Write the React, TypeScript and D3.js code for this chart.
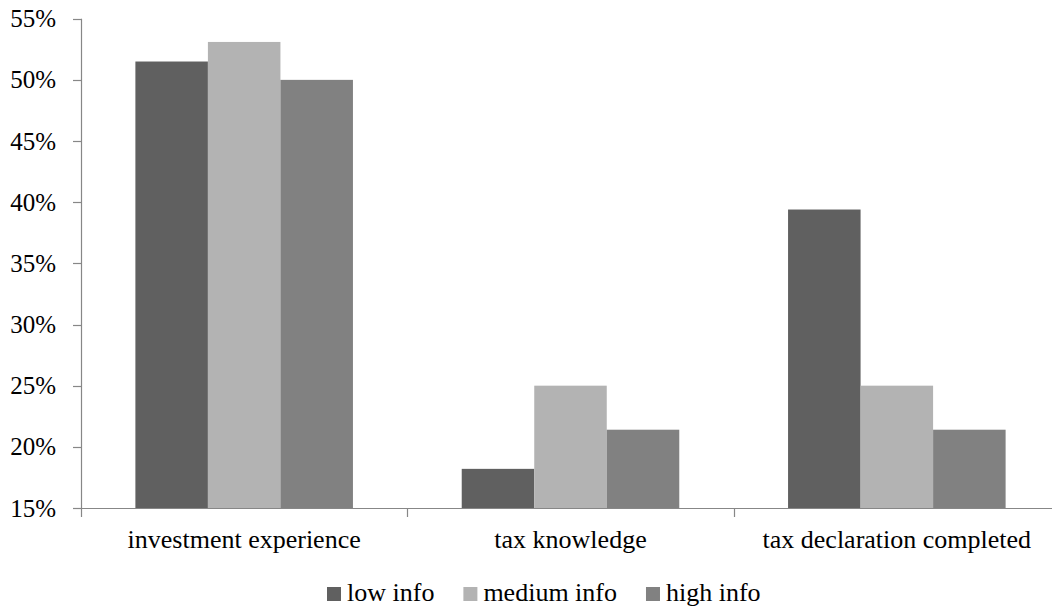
import React, { useEffect, useRef } from "react";
import * as d3 from "d3";

const categories = ["investment experience", "tax knowledge", "tax declaration completed"];
const seriesNames = ["low info", "medium info", "high info"];
const lowInfo = [51.5, 18.2, 39.4];
const mediumInfo = [53.1, 25.0, 25.0];
const highInfo = [50.0, 21.4, 21.4];
const seriesColors = ["#606060", "#b3b3b3", "#818181"];
const yTicks = [15, 20, 25, 30, 35, 40, 45, 50, 55];

const W = 1052;
const H = 608;
const FONT = "Liberation Serif, Times New Roman, Times, serif";

export default function App() {
  const ref = useRef<SVGSVGElement | null>(null);

  useEffect(() => {
    const svg = d3.select(ref.current);
    svg.selectAll("*").remove();

    const left = 81, right = 1060, top = 18.7, bottom = 508;
    const y = d3.scaleLinear().domain([15, 55]).range([bottom, top]);
    const x0 = d3.scaleBand<string>().domain(categories).range([left, right]).padding(0);
    const x1 = d3.scaleBand<string>().domain(seriesNames).range([0, x0.bandwidth()])
      .paddingInner(0).paddingOuter(0.75);

    const seriesData = [lowInfo, mediumInfo, highInfo];
    const axisColor = "#878787";

    // bars
    categories.forEach((c, ci) => {
      seriesNames.forEach((s, si) => {
        const v = seriesData[si][ci];
        svg.append("rect")
          .attr("x", (x0(c) as number) + (x1(s) as number))
          .attr("y", y(v))
          .attr("width", x1.bandwidth())
          .attr("height", y(15) - y(v))
          .attr("fill", seriesColors[si]);
      });
    });

    // y axis
    svg.append("line").attr("x1", left + 0.5).attr("x2", left + 0.5)
      .attr("y1", y(55)).attr("y2", bottom).attr("stroke", axisColor).attr("stroke-width", 1.2);
    yTicks.forEach((t) => {
      const yy = Math.round(y(t)) + 0.5;
      svg.append("line").attr("x1", left - 8).attr("x2", left + 0.5)
        .attr("y1", yy).attr("y2", yy).attr("stroke", axisColor).attr("stroke-width", 1.2);
      svg.append("text").attr("x", 56).attr("y", y(t) + 8.5)
        .attr("text-anchor", "end").style("font-family", FONT).style("font-size", "25px")
        .attr("fill", "#000").text(`${t}%`);
    });

    // x axis
    svg.append("line").attr("x1", left).attr("x2", right)
      .attr("y1", bottom + 0.5).attr("y2", bottom + 0.5).attr("stroke", axisColor).attr("stroke-width", 1.2);
    const bounds = [...categories.map((c) => x0(c) as number), right];
    bounds.forEach((b) => {
      const xx = Math.round(b) + 0.5;
      svg.append("line").attr("x1", xx).attr("x2", xx)
        .attr("y1", bottom).attr("y2", bottom + 9).attr("stroke", axisColor).attr("stroke-width", 1.2);
    });
    categories.forEach((c) => {
      svg.append("text").attr("x", (x0(c) as number) + x0.bandwidth() / 2).attr("y", 548)
        .attr("text-anchor", "middle").style("font-family", FONT).style("font-size", "26px")
        .attr("fill", "#000").text(c);
    });

    // legend
    let lx = 327;
    seriesNames.forEach((s, si) => {
      svg.append("rect").attr("x", lx).attr("y", 587).attr("width", 14).attr("height", 14)
        .attr("fill", seriesColors[si]);
      const t = svg.append("text").attr("x", lx + 20).attr("y", 601)
        .style("font-family", FONT).style("font-size", "26px").attr("fill", "#000").text(s);
      const w = (t.node() as SVGTextElement).getComputedTextLength();
      lx += 20 + w + 29;
    });
  }, []);

  return (
    <svg
      ref={ref}
      width={W}
      height={H}
      style={{ position: "absolute", left: 0, top: 0, background: "#fff", fontFamily: FONT }}
    />
  );
}
